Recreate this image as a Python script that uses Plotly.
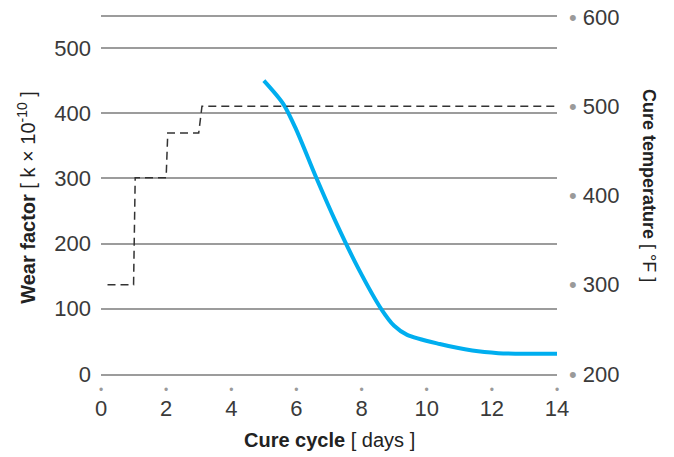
import plotly.graph_objects as go

# wear factor curve (left axis)
wear_days = [5.0, 5.6, 6.0, 6.6, 7.2, 7.9, 8.6, 9.0, 9.4, 10.4, 11.4, 12.2, 13.0, 14.0]
wear = [450, 414, 374, 302, 234, 162, 100, 74, 60, 46, 36, 32, 31, 31]

# cure temperature steps (right axis)
temp_days = [0.2, 1.0, 1.05, 2.0, 2.05, 3.0, 3.1, 14.0]
temp = [300, 300, 420, 420, 470, 470, 500, 500]

x_ticks = [0, 2, 4, 6, 8, 10, 12, 14]
wear_ticks = [0, 100, 200, 300, 400, 500]
temp_ticks = [200, 300, 400, 500, 600]

dot = "<span style='color:#9a9a9a'>•</span>"
grid = "#9c9c9c"
txt = "#3a3a3a"
font = "Liberation Sans"

fig = go.Figure()
fig.add_trace(go.Scatter(x=temp_days, y=temp, mode="lines", xaxis="x2", yaxis="y2",
                         line=dict(color="#333333", width=1.5, dash="8px,5px")))
fig.add_trace(go.Scatter(x=wear_days, y=wear, mode="lines",
                         line=dict(color="#00aeef", width=4, shape="spline", smoothing=0.8)))

# page body has an 8px margin, so the figure is 8px smaller each way
fig.update_layout(
    width=666, height=449,
    margin=dict(l=93, r=117, t=9, b=83, autoexpand=False),
    plot_bgcolor="white", paper_bgcolor="white",
    showlegend=False,
    font=dict(family=font, color=txt),
    xaxis=dict(range=[0, 14], tickvals=x_ticks, showgrid=False, zeroline=False,
               showline=True, mirror=True, linecolor=grid, linewidth=1.5, automargin=False,
               ticks="", ticklabelstandoff=14, tickfont=dict(size=22, color=txt)),
    xaxis2=dict(range=[0, 14], overlaying="x", anchor="y", side="bottom", automargin=False,
                tickvals=x_ticks, ticktext=["•"] * len(x_ticks), showgrid=False,
                zeroline=False, showline=False, ticks="", ticklabelstandoff=7,
                tickfont=dict(size=12, color="#9a9a9a")),
    yaxis=dict(range=[0, 547.5], tickvals=wear_ticks, showgrid=True, gridcolor=grid,
               gridwidth=1.5, zeroline=False, ticks="", ticklabelstandoff=9, automargin=False,
               tickfont=dict(size=22, color=txt)),
    yaxis2=dict(range=[200, 600], overlaying="y", side="right", anchor="x2", automargin=False,
                tickvals=temp_ticks, ticktext=[f"{dot} {t}" for t in temp_ticks],
                showgrid=False, zeroline=False, ticks="", ticklabelstandoff=11,
                ticklabeloverflow="allow", tickfont=dict(size=22, color=txt)),
)

fig.add_annotation(text="<b>Cure cycle</b> [ days ]", xref="paper", yref="paper",
                   x=0.5, y=-0.185, xanchor="center", yanchor="middle", showarrow=False,
                   font=dict(size=20, color="#222222"))
fig.add_annotation(text="<b>Wear factor</b> [ k × 10<sup>-10</sup> ]", xref="paper", yref="paper",
                   x=-0.164, y=0.494, textangle=-90, xanchor="center", yanchor="middle",
                   showarrow=False, font=dict(size=20, color="#222222"))
fig.add_annotation(text="<b>Cure temperature</b> [ °F ]", xref="paper", yref="paper",
                   x=1.202, y=0.529, textangle=90, xanchor="center", yanchor="middle",
                   showarrow=False, font=dict(size=18, color="#222222"))

fig.write_html("out.html")
